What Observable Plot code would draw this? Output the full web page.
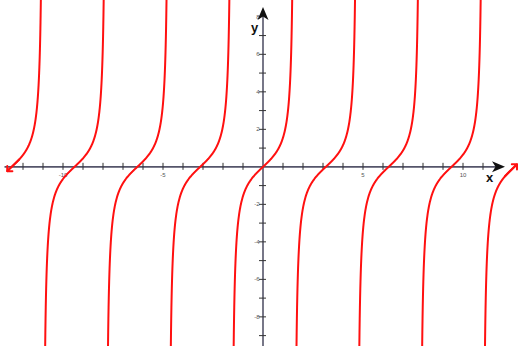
<!DOCTYPE html>
<html>
<head>
<meta charset="utf-8">
<script src="https://cdn.jsdelivr.net/npm/d3@7"></script>
<script src="https://cdn.jsdelivr.net/npm/@observablehq/plot@0.6"></script>
<style>
  html, body { margin: 0; padding: 0; background: #fff; }
  #chart svg { display: block; }
</style>
</head>
<body>
<div id="chart"></div>
<script>
// ---- data ----
const xTicks = [-12,-11,-10,-9,-8,-7,-6,-5,-4,-3,-2,-1,1,2,3,4,5,6,7,8,9,10,11];
const yTicks = [-9,-8,-7,-6,-5,-4,-3,-2,-1,1,2,3,4,5,6,7];
const xTickLabels = [-10, -5, 5, 10];
const yTickLabels = [-8, -6, -4, -2, 2, 4, 6, 8];
const xDomain = [-13.125, 12.775];
const yDomain = [-9.58, 8.87];
const curveRange = [-12.79, 12.7];        // plotted function: y = tan(x)
const branches = [-4, -3, -2, -1, 0, 1, 2, 3, 4]; // branch index k, centred at k·π
const xAxisRange = [-12.9, 11.9];
const yAxisRange = [-9.7, 8.3];
const axisNames = [{t: "x", x: 11.33, y: -0.57}, {t: "y", x: -0.42, y: 7.4}];

// ---- build curve samples ----
const yLim = 12;
const points = [];
for (const k of branches) {
  const c = k * Math.PI;
  const a = Math.max(c - Math.atan(yLim), curveRange[0]);
  const b = Math.min(c + Math.atan(yLim), curveRange[1]);
  const n = 300;
  for (let i = 0; i <= n; i++) {
    const x = a + (b - a) * i / n;
    points.push({k, x, y: Math.tan(x)});
  }
}
// end arrows: short chord ending at each end of the curve
const d = 0.6;
const endArrows = [
  {x1: curveRange[0] + d, y1: Math.tan(curveRange[0] + d), x2: curveRange[0], y2: Math.tan(curveRange[0])},
  {x1: curveRange[1] - d, y1: Math.tan(curveRange[1] - d), x2: curveRange[1], y2: Math.tan(curveRange[1])}
];

// notched arrowhead symbol pointing up
const arrowHead = {
  draw(ctx, size) {
    ctx.moveTo(0, -7);
    ctx.lineTo(5.5, 6);
    ctx.lineTo(0, 2.5);
    ctx.lineTo(-5.5, 6);
    ctx.closePath();
  }
};

const axisColor = "#55556a";
const red = "#ff1010";

const chart = Plot.plot({
  width: 518,
  height: 346,
  margin: 0,
  x: {domain: xDomain, axis: null},
  y: {domain: yDomain, axis: null},
  style: {background: "#fff", fontFamily: "Liberation Sans, Arial, sans-serif"},
  marks: [
    // axis lines
    Plot.ruleY([0], {x1: xAxisRange[0], x2: xAxisRange[1], stroke: axisColor, strokeWidth: 1.6}),
    Plot.ruleX([0], {y1: yAxisRange[0], y2: yAxisRange[1], stroke: axisColor, strokeWidth: 1.6}),
    // ticks
    Plot.ruleX(xTicks, {x: d => d, y1: 0, y2: 0, insetTop: -3.5, insetBottom: -3.5, stroke: "#333", strokeWidth: 1}),
    Plot.ruleY(yTicks, {y: d => d, x1: 0, x2: 0, insetLeft: -3.5, insetRight: -3.5, stroke: "#333", strokeWidth: 1}),
    // tick labels
    Plot.text(xTickLabels, {x: d => d, y: 0, text: d => String(d), dy: 8, fontSize: 6, fill: "#555"}),
    Plot.text(yTickLabels, {x: 0, y: d => d, text: d => String(d), dx: -3.5, textAnchor: "end", fontSize: 6, fill: "#555"}),
    // curve
    Plot.line(points, {x: "x", y: "y", z: "k", stroke: red, strokeWidth: 2, clip: true}),
    Plot.arrow(endArrows, {x1: "x1", y1: "y1", x2: "x2", y2: "y2", stroke: red, strokeWidth: 2, headAngle: 90, headLength: 3.9}),
    // axis arrowheads
    Plot.dot([{x: xAxisRange[1] - 0.15, y: 0}], {x: "x", y: "y", symbol: arrowHead, rotate: 90, fill: "#111", stroke: "none", r: 5}),
    Plot.dot([{x: 0, y: yAxisRange[1] - 0.15}], {x: "x", y: "y", symbol: arrowHead, fill: "#111", stroke: "none", r: 5}),
    // axis names
    Plot.text(axisNames, {x: "x", y: "y", text: "t", fontSize: 13, fontWeight: "bold", fill: "#111"})
  ]
});
document.getElementById("chart").append(chart);
</script>
</body>
</html>
